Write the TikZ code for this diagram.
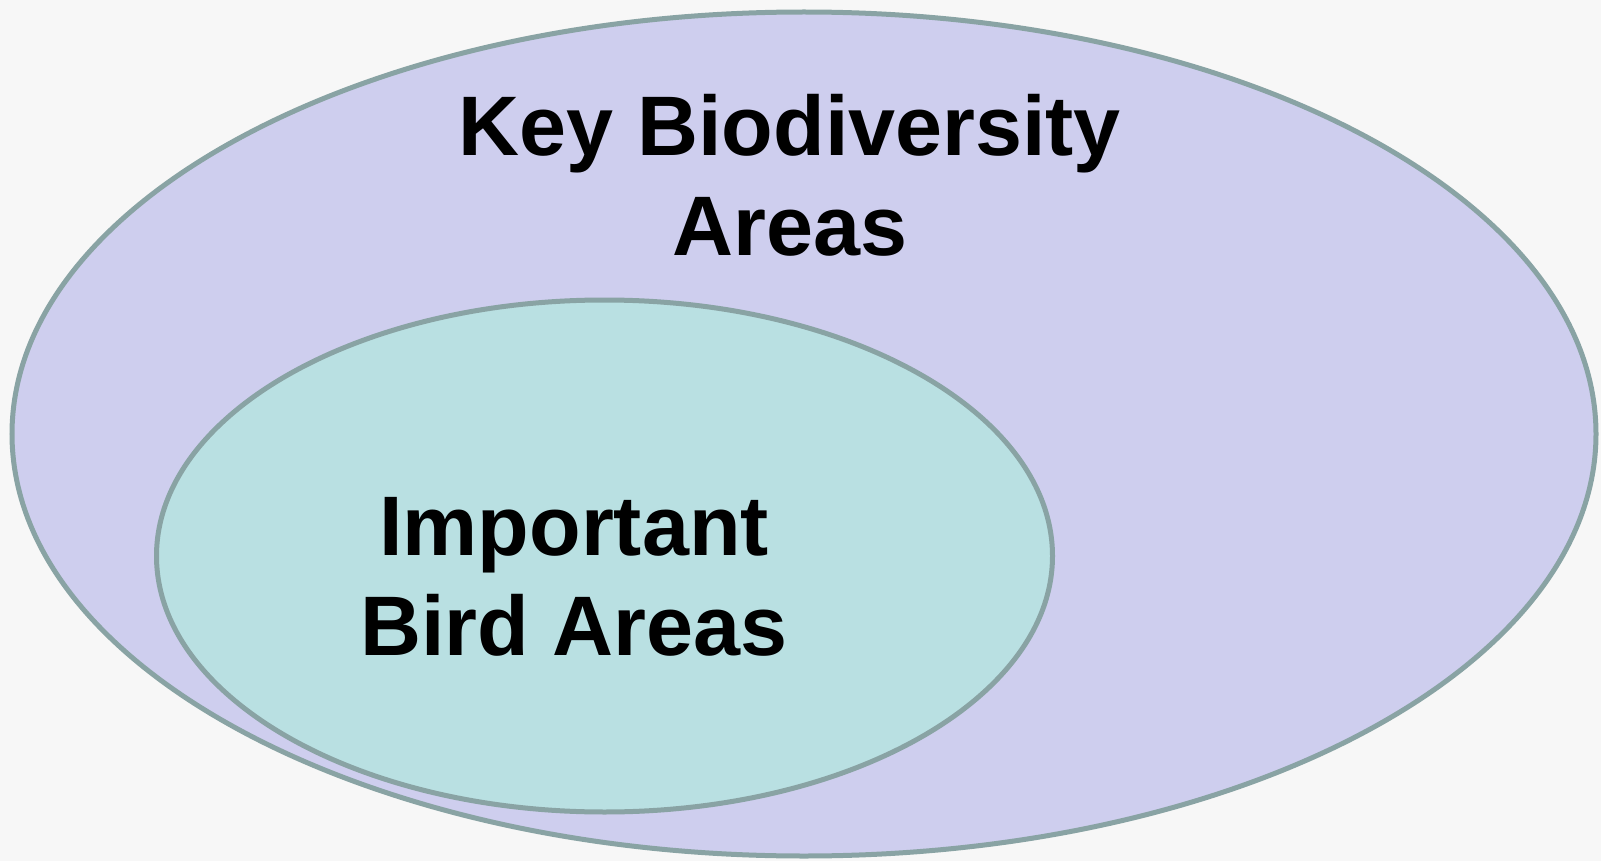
\documentclass[tikz,border=0pt]{standalone}
\usepackage{fontspec}
\setmainfont{Liberation Sans}
\definecolor{bgcol}{RGB}{247,247,247}
\definecolor{kbafill}{RGB}{206,206,238}
\definecolor{ibafill}{RGB}{185,224,226}
\definecolor{rimcol}{RGB}{137,163,164}
\tikzset{
  rim/.style={draw=rimcol, line width=5pt},
  bigtext/.style={align=center, anchor=base,
    font=\fontsize{84.5}{100}\selectfont\bfseries}
}
\begin{document}
\begin{tikzpicture}[x=1pt, y=-1pt]
                \fill[bgcol] (0,0) rectangle (1601,861);
                \useasboundingbox (0,0) rectangle (1601,861);
                \coordinate (kbaC) at (804,434);
                \coordinate (ibaC) at (604.5,556);
                \draw[rim, fill=kbafill] (kbaC) ellipse [x radius=792, y radius=422];
                \draw[rim, fill=ibafill] (ibaC) ellipse [x radius=448, y radius=256];
                \node[bigtext] (kba) at (790,255) {Key Biodiversity\\Areas};
                \node[bigtext] (iba) at (574,655) {Important\\Bird Areas};
            \end{tikzpicture}
\end{document}
